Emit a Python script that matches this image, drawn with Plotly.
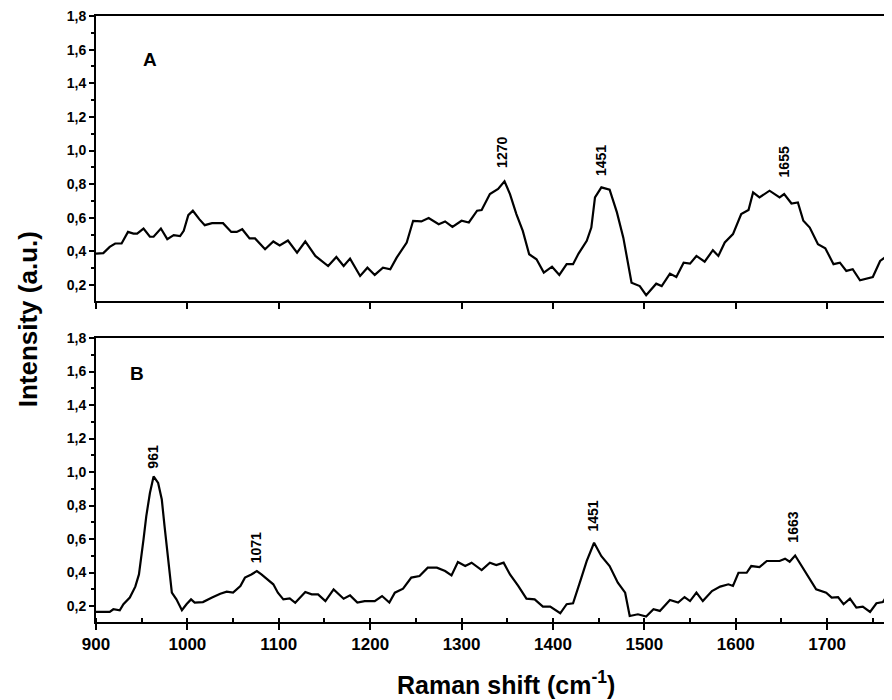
import plotly.graph_objects as go
from plotly.subplots import make_subplots

# Panel A spectrum
wave_a = [900, 908, 915, 921, 928, 935, 941, 945, 952, 959, 963, 971, 978, 985, 992, 996,
          1001, 1006, 1013, 1019, 1027, 1039, 1048, 1054, 1060, 1068, 1074, 1085, 1094, 1101,
          1110, 1120, 1129, 1140, 1154, 1163, 1171, 1178, 1189, 1197, 1205, 1214, 1222, 1229,
          1240, 1247, 1256, 1264, 1275, 1282, 1290, 1300, 1308, 1317, 1322, 1331, 1340, 1347,
          1353, 1360, 1367, 1374, 1382, 1390, 1399, 1407, 1415, 1422, 1428, 1437, 1442, 1446,
          1453, 1462, 1470, 1477, 1486, 1495, 1502, 1513, 1519, 1528, 1535, 1543, 1550, 1557,
          1566, 1575, 1581, 1588, 1597, 1606, 1614, 1619, 1626, 1637, 1648, 1653, 1661, 1668,
          1674, 1681, 1690, 1698, 1707, 1714, 1721, 1728, 1736, 1750, 1758, 1763, 1771]
int_a = [0.387, 0.39, 0.427, 0.447, 0.447, 0.516, 0.506, 0.506, 0.536, 0.487, 0.487, 0.536,
         0.473, 0.497, 0.491, 0.522, 0.616, 0.642, 0.592, 0.556, 0.568, 0.568, 0.516, 0.516,
         0.532, 0.477, 0.477, 0.413, 0.459, 0.435, 0.465, 0.393, 0.459, 0.373, 0.313, 0.367,
         0.313, 0.357, 0.254, 0.303, 0.260, 0.303, 0.294, 0.363, 0.453, 0.582, 0.578, 0.598,
         0.562, 0.578, 0.546, 0.582, 0.572, 0.642, 0.646, 0.741, 0.771, 0.817, 0.741, 0.622,
         0.522, 0.383, 0.353, 0.274, 0.309, 0.260, 0.324, 0.324, 0.387, 0.463, 0.542, 0.721,
         0.781, 0.767, 0.632, 0.482, 0.214, 0.194, 0.140, 0.208, 0.194, 0.268, 0.248, 0.333,
         0.327, 0.373, 0.339, 0.407, 0.373, 0.453, 0.503, 0.622, 0.646, 0.751, 0.721, 0.761,
         0.721, 0.741, 0.685, 0.691, 0.582, 0.542, 0.443, 0.419, 0.324, 0.333, 0.284, 0.294,
         0.228, 0.248, 0.343, 0.363, 0.453]

# Panel B spectrum
wave_b = [900, 915, 919, 926, 930, 937, 943, 947, 952, 955, 959, 963, 968, 972, 975, 979,
          983, 988, 994, 999, 1004, 1008, 1017, 1027, 1036, 1043, 1050, 1058, 1063, 1070, 1076,
          1081, 1087, 1094, 1099, 1105, 1112, 1118, 1129, 1136, 1143, 1151, 1160, 1171, 1178,
          1186, 1194, 1205, 1213, 1221, 1227, 1236, 1245, 1254, 1263, 1273, 1282, 1289, 1296,
          1304, 1311, 1322, 1331, 1338, 1346, 1353, 1362, 1371, 1380, 1389, 1397, 1408, 1415,
          1422, 1430, 1437, 1445, 1453, 1462, 1471, 1479, 1484, 1493, 1502, 1510, 1517, 1528,
          1537, 1544, 1550, 1557, 1564, 1574, 1583, 1592, 1597, 1603, 1612, 1617, 1626, 1634,
          1648, 1654, 1659, 1665, 1672, 1681, 1688, 1699, 1705, 1712, 1718, 1725, 1732, 1739,
          1747, 1754, 1761, 1771]
int_b = [0.165, 0.165, 0.181, 0.175, 0.211, 0.251, 0.316, 0.389, 0.598, 0.736, 0.875, 0.974,
         0.935, 0.836, 0.677, 0.479, 0.280, 0.240, 0.175, 0.211, 0.240, 0.221, 0.224, 0.251,
         0.274, 0.286, 0.280, 0.320, 0.370, 0.389, 0.409, 0.389, 0.360, 0.330, 0.280, 0.240,
         0.246, 0.220, 0.284, 0.270, 0.270, 0.230, 0.300, 0.244, 0.264, 0.221, 0.230, 0.230,
         0.260, 0.221, 0.280, 0.304, 0.370, 0.379, 0.429, 0.429, 0.409, 0.383, 0.463, 0.439,
         0.459, 0.415, 0.459, 0.445, 0.459, 0.389, 0.320, 0.244, 0.240, 0.197, 0.197, 0.157,
         0.211, 0.217, 0.350, 0.470, 0.578, 0.498, 0.439, 0.340, 0.280, 0.141, 0.151, 0.137,
         0.181, 0.171, 0.236, 0.221, 0.254, 0.230, 0.280, 0.230, 0.290, 0.316, 0.330, 0.320,
         0.399, 0.399, 0.439, 0.433, 0.469, 0.469, 0.483, 0.465, 0.502, 0.439, 0.360, 0.300,
         0.280, 0.251, 0.254, 0.211, 0.244, 0.191, 0.197, 0.165, 0.217, 0.224, 0.310]

# Peak labels: (text, x position, y position)
peaks_a_text = ["1270", "1451", "1655"]
peaks_a_x = [1345, 1452, 1653]
peaks_a_y = [0.99, 0.94, 0.93]
peaks_b_text = ["961", "1071", "1451", "1663"]
peaks_b_x = [962, 1076, 1444, 1663]
peaks_b_y = [1.09, 0.55, 0.735, 0.67]

y_ticks = [0.2, 0.4, 0.6, 0.8, 1.0, 1.2, 1.4, 1.6, 1.8]
y_tick_text = ["<b>0,2</b>", "<b>0,4</b>", "<b>0,6</b>", "<b>0,8</b>", "<b>1,0</b>",
               "<b>1,2</b>", "<b>1,4</b>", "<b>1,6</b>", "<b>1,8</b>"]
x_ticks = [900, 1000, 1100, 1200, 1300, 1400, 1500, 1600, 1700]

FONT = "Arial, Liberation Sans, sans-serif"

fig = make_subplots(rows=2, cols=1, vertical_spacing=0.06)
fig.add_trace(go.Scatter(x=wave_a, y=int_a, mode="lines",
                         line=dict(color="black", width=2.2), showlegend=False), row=1, col=1)
fig.add_trace(go.Scatter(x=wave_b, y=int_b, mode="lines",
                         line=dict(color="black", width=2.2), showlegend=False), row=2, col=1)

for t, x, y in zip(peaks_a_text, peaks_a_x, peaks_a_y):
    fig.add_annotation(x=x, y=y, xref="x", yref="y", text="<b>" + t + "</b>", showarrow=False,
                       textangle=-90, font=dict(family=FONT, size=14, color="black"))
for t, x, y in zip(peaks_b_text, peaks_b_x, peaks_b_y):
    fig.add_annotation(x=x, y=y, xref="x2", yref="y2", text="<b>" + t + "</b>", showarrow=False,
                       textangle=-90, font=dict(family=FONT, size=14, color="black"))

fig.add_annotation(x=0.068, y=1.54, xref="paper", yref="y", text="<b>A</b>", showarrow=False,
                   xanchor="center", yanchor="middle", font=dict(family=FONT, size=19, color="black"))
fig.add_annotation(x=0.051, y=1.59, xref="paper", yref="y2", text="<b>B</b>", showarrow=False,
                   xanchor="center", yanchor="middle", font=dict(family=FONT, size=19, color="black"))

xaxis_common = dict(range=[900, 1771], showline=True, linecolor="black", linewidth=2,
                    mirror=True, ticks="outside", ticklen=6, tickwidth=2, tickcolor="black",
                    tickvals=x_ticks, ticktext=["<b>%d</b>" % v for v in x_ticks],
                    showgrid=False, zeroline=False, automargin=False,
                    ticklabelstandoff=0, ticklabeloverflow="allow",
                    tickfont=dict(family=FONT, size=17, color="black"))
yaxis_common = dict(range=[0.105, 1.8], showline=True, linecolor="black", linewidth=2,
                    mirror=False, ticks="outside", ticklen=5, tickwidth=2, tickcolor="black",
                    tickvals=y_ticks, ticktext=y_tick_text, showgrid=False, zeroline=False,
                    automargin=False, ticklabeloverflow="allow",
                    minor=dict(ticks="outside", ticklen=3, tickwidth=1.5, dtick=0.1,
                               tick0=0.1, tickcolor="black"),
                    tickfont=dict(family=FONT, size=14, color="black"))

fig.update_xaxes(**xaxis_common)
fig.update_yaxes(**yaxis_common)
fig.update_layout(
    xaxis=dict(domain=[0, 1], showticklabels=False),
    yaxis=dict(domain=[0.5297, 1.0]),
    xaxis2=dict(domain=[0, 1], showticklabels=True,
                minor=dict(ticks="inside", ticklen=4, tickwidth=1.5, dtick=50,
                           tick0=900, tickcolor="black")),
    yaxis2=dict(domain=[0.0, 0.4686]),
)
fig.add_annotation(x=0.515, y=-0.10, xref="paper", yref="paper",
                   text="<b>Raman shift (cm<sup>-1</sup>)</b>", showarrow=False,
                   xanchor="center", yanchor="middle",
                   font=dict(family=FONT, size=25, color="black"))
fig.add_annotation(x=-0.085, y=0.5, xref="paper", yref="paper", text="<b>Intensity (a.u.)</b>",
                   textangle=-90, showarrow=False, xanchor="center", yanchor="middle",
                   font=dict(family=FONT, size=26, color="black"))

fig.update_layout(width=892, height=700, margin=dict(l=88, r=8, t=8, b=86),
                  plot_bgcolor="white", paper_bgcolor="white", showlegend=False,
                  font=dict(family=FONT, color="black"))
fig.write_html("out.html")
